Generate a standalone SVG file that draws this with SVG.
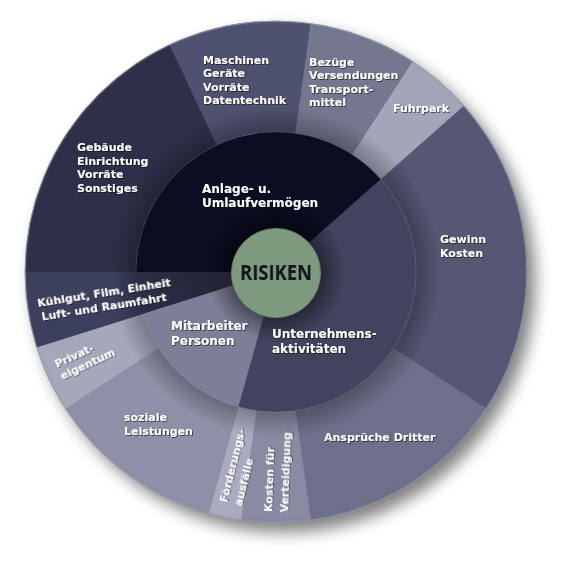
<svg xmlns="http://www.w3.org/2000/svg" width="573" height="568" viewBox="0 0 573 568">
<defs>
<filter id="dropShadow" x="-20%" y="-20%" width="140%" height="140%">
<feGaussianBlur stdDeviation="8"/>
</filter>
<filter id="txtShadow" x="-10%" y="-30%" width="120%" height="160%">
<feDropShadow dx="0.8" dy="0.8" stdDeviation="0.6" flood-color="#000" flood-opacity="0.7"/>
</filter>
<radialGradient id="outerShade" gradientUnits="userSpaceOnUse" cx="276" cy="272" r="251">
<stop offset="0" stop-color="#000" stop-opacity="0.55"/>
<stop offset="0.56" stop-color="#000" stop-opacity="0.26"/>
<stop offset="0.66" stop-color="#000" stop-opacity="0"/>
<stop offset="0.985" stop-color="#000" stop-opacity="0"/>
<stop offset="1" stop-color="#fff" stop-opacity="0.15"/>
</radialGradient>
<radialGradient id="innerShade" gradientUnits="userSpaceOnUse" cx="276" cy="272" r="140">
<stop offset="0.32" stop-color="#000" stop-opacity="0.42"/>
<stop offset="0.5" stop-color="#000" stop-opacity="0"/>
<stop offset="1" stop-color="#000" stop-opacity="0"/>
</radialGradient>
<style>
.t{font-family:"DejaVu Sans","Liberation Sans",sans-serif;font-weight:bold;font-size:11px;fill:#ffffff;filter:url(#txtShadow)}
.ti{font-family:"DejaVu Sans","Liberation Sans",sans-serif;font-weight:bold;font-size:12px;fill:#ffffff;filter:url(#txtShadow)}
.seg{stroke:none}
</style>
</defs>

<circle cx="284" cy="281" r="251" fill="#000" opacity="0.5" filter="url(#dropShadow)"/>

<g id="outer-ring">
<g id="gebaeude">
<path class="seg" fill="#2e3049" d="M25,272 A251,251 0 0 1 169.92,44.52 L216.83,145.12 A140,140 0 0 0 136,272 Z"/>
<text class="t" x="77" y="151">Gebäude<tspan x="77" dy="13.5">Einrichtung</tspan><tspan x="77" dy="13.5">Vorräte</tspan><tspan x="77" dy="13.5">Sonstiges</tspan></text>
</g>
<g id="maschinen">
<path class="seg" fill="#4f5170" d="M169.92,44.52 A251,251 0 0 1 310.93,23.44 L295.48,133.36 A140,140 0 0 0 216.83,145.12 Z"/>
<text class="t" x="203" y="63.5">Maschinen<tspan x="203" dy="13.5">Geräte</tspan><tspan x="203" dy="13.5">Vorräte</tspan><tspan x="203" dy="13.5">Datentechnik</tspan></text>
</g>
<g id="bezuege">
<path class="seg" fill="#75778f" d="M310.93,23.44 A251,251 0 0 1 412.70,61.49 L352.25,154.59 A140,140 0 0 0 295.48,133.36 Z"/>
<text class="t" x="309" y="66">Bezüge<tspan x="309" dy="13.4">Versendungen</tspan><tspan x="309" dy="13.4">Transport-</tspan><tspan x="309" dy="13.4">mittel</tspan></text>
</g>
<g id="fuhrpark">
<path class="seg" fill="#a3a5b9" d="M412.70,61.49 A251,251 0 0 1 463.99,105.68 L380.85,179.23 A140,140 0 0 0 352.25,154.59 Z"/>
<text class="t" x="393" y="112">Fuhrpark</text>
</g>
<g id="gewinn">
<path class="seg" fill="#555774" d="M463.99,105.68 A251,251 0 0 1 486.51,408.70 L393.41,348.25 A140,140 0 0 0 380.85,179.23 Z"/>
<text class="t" x="440" y="243">Gewinn<tspan x="440" dy="13.5">Kosten</tspan></text>
</g>
<g id="ansprueche">
<path class="seg" fill="#6e708b" d="M486.51,408.70 A251,251 0 0 1 310.93,520.56 L295.48,410.64 A140,140 0 0 0 393.41,348.25 Z"/>
<text class="t" x="324" y="441">Ansprüche Dritter</text>
</g>
<g id="verteidigung">
<path class="seg" fill="#898ba3" d="M310.93,520.56 A251,251 0 0 1 241.07,520.56 L256.52,410.64 A140,140 0 0 0 295.48,410.64 Z"/>
<text class="t" transform="translate(272,512) rotate(-88)">Kosten für<tspan x="0" dy="15.5">Verteidigung</tspan></text>
</g>
<g id="foerderung">
<path class="seg" fill="#a9abbf" d="M241.07,520.56 A251,251 0 0 1 208.50,513.75 L238.35,406.84 A140,140 0 0 0 256.52,410.64 Z"/>
<text class="t" transform="translate(227,503) rotate(-76)">Förderungs-<tspan x="0" dy="14.5">ausfälle</tspan></text>
</g>
<g id="soziale">
<path class="seg" fill="#8e90a7" d="M208.50,513.75 A251,251 0 0 1 65.49,408.70 L158.59,348.25 A140,140 0 0 0 238.35,406.84 Z"/>
<text class="t" x="124" y="421">soziale<tspan x="124" dy="14">Leistungen</tspan></text>
</g>
<g id="privat">
<path class="seg" fill="#a5a7bb" d="M65.49,408.70 A251,251 0 0 1 36.62,347.48 L142.48,314.10 A140,140 0 0 0 158.59,348.25 Z"/>
<text class="t" transform="translate(57,368) rotate(-25)">Privat-<tspan x="0" dy="13">eigentum</tspan></text>
</g>
<g id="kuehlgut">
<path class="seg" fill="#3d3f5f" d="M36.62,347.48 A251,251 0 0 1 25,272 L231,272 A45,45 0 0 0 233.08,285.53 Z"/>
</g>
</g>

<circle cx="276" cy="272" r="251" fill="url(#outerShade)" stroke="#8f91a6" stroke-width="1"/>

<g id="kuehlgut-label">
<text class="t" transform="translate(38,307) rotate(-9)">Kühlgut, Film, Einheit<tspan x="2" dy="14">Luft- und Raumfahrt</tspan></text>
</g>

<g id="middle-ring">
<g id="anlage">
<path class="seg" fill="#0b0d22" d="M276,272 L136,272 A140,140 0 0 1 380.85,179.23 Z"/>
</g>
<g id="unternehmen">
<path class="seg" fill="#42445f" d="M276,272 L380.85,179.23 A140,140 0 0 1 238.35,406.84 Z"/>
</g>
<g id="mitarbeiter">
<path class="seg" fill="#7d7f98" d="M276,272 L238.35,406.84 A140,140 0 0 1 142.48,314.10 Z"/>
</g>
<path d="M276,272 L136,272 A140,140 0 1 1 142.48,314.10 Z" fill="url(#innerShade)"/>
<path d="M136,272 A140,140 0 1 1 142.48,314.10" fill="none" stroke="#ffffff" stroke-opacity="0.12" stroke-width="1"/>
<g id="middle-labels">
<text class="ti" x="202" y="193">Anlage- u.<tspan x="202" dy="14.3">Umlaufvermögen</tspan></text>
<text class="ti" x="272" y="338">Unternehmens-<tspan x="272" dy="15">aktivitäten</tspan></text>
<text class="ti" x="171" y="330">Mitarbeiter<tspan x="171" dy="15">Personen</tspan></text>
</g>
</g>

<g id="risiken">
<circle cx="276" cy="273" r="44.5" fill="#7e9a7e" stroke="#6d876d" stroke-width="1"/>
<text x="276" y="280" text-anchor="middle" font-family="'Open Sans','Liberation Sans',sans-serif" font-weight="bold" font-size="21" fill="#15151f" textLength="72" lengthAdjust="spacingAndGlyphs">RISIKEN</text>
</g>

<g id="connectors"/>
</svg>
